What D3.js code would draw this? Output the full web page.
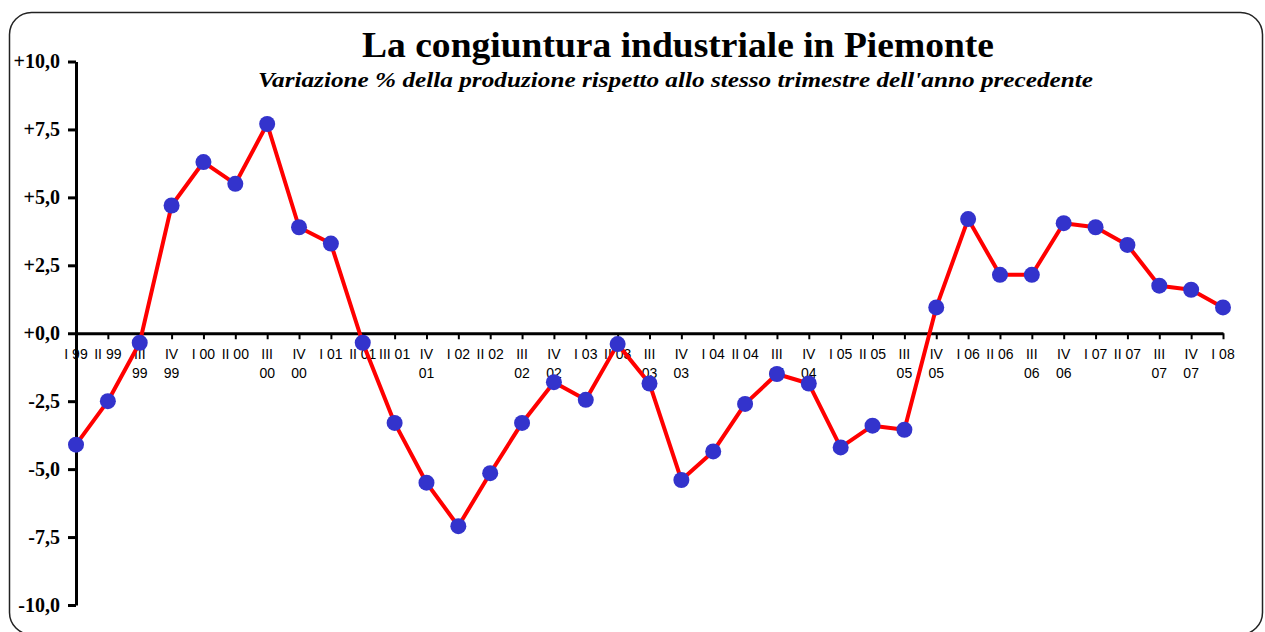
<!DOCTYPE html>
<html>
<head>
<meta charset="utf-8">
<script src="https://cdn.jsdelivr.net/npm/d3@7"></script>
<style>
  body { margin: 0; background: #fff; }
  svg { display: block; }
</style>
</head>
<body>
<svg width="1265" height="632"></svg>
<script>
// quarters I 99 .. I 08 (labels wrap like in the original sheet)
var quarters = ["I 99", "II 99", "III\n99", "IV\n99",
  "I 00", "II 00", "III\n00", "IV\n00",
  "I 01", "II 01", "III 01", "IV\n01",
  "I 02", "II 02", "III\n02", "IV\n02",
  "I 03", "II 03", "III\n03", "IV\n03",
  "I 04", "II 04", "III\n04", "IV\n04",
  "I 05", "II 05", "III\n05", "IV\n05",
  "I 06", "II 06", "III\n06", "IV\n06",
  "I 07", "II 07", "III\n07", "IV\n07",
  "I 08"];

// % change of production vs same quarter of previous year
var production = [-4.1, -2.5, -0.35, 4.7,
  6.3, 5.5, 7.7, 3.9,
  3.3, -0.35, -3.3, -5.5,
  -7.1, -5.15, -3.3, -1.8,
  -2.45, -0.4, -1.85, -5.4,
  -4.35, -2.6, -1.5, -1.85,
  -4.2, -3.4, -3.55, 0.95,
  4.2, 2.15, 2.15, 4.05,
  3.9, 3.25, 1.75, 1.6,
  0.95];

var yTicks = [-10, -7.5, -5, -2.5, 0, 2.5, 5, 7.5, 10];

var title = "La congiuntura industriale in Piemonte";
var subtitle = "Variazione % della produzione rispetto allo stesso trimestre dell'anno precedente";

var svg = d3.select("svg");

// rounded frame
svg.append("rect")
    .attr("x", 9.5).attr("y", 12.5)
    .attr("width", 1253).attr("height", 622)
    .attr("rx", 22).attr("ry", 22)
    .style("fill", "none")
    .style("stroke", "#222")
    .style("stroke-width", 1.5);

var x = d3.scalePoint().domain(quarters).range([76, 1223]);
var y = d3.scaleLinear().domain([-10, 10]).range([605, 61.5]);

function fmt(v) {
  var s = Math.abs(v).toFixed(1).replace(".", ",");
  return (v < 0 ? "-" : "+") + s;
}

// y axis
var yAxis = svg.append("g")
    .attr("transform", "translate(76,0)")
    .call(d3.axisLeft(y).tickValues(yTicks).tickFormat(fmt).tickSize(8).tickSizeOuter(0).tickPadding(8));
yAxis.select(".domain").style("stroke", "#000").style("stroke-width", 3);
yAxis.selectAll(".tick line").style("stroke", "#000").style("stroke-width", 3);
yAxis.selectAll(".tick text")
    .style("font-family", "'Liberation Serif', 'Times New Roman', serif")
    .style("font-weight", "bold")
    .style("font-size", "20px")
    .style("fill", "#000");

// x axis on the zero line
var xAxis = svg.append("g")
    .attr("transform", "translate(0," + y(0) + ")")
    .call(d3.axisBottom(x).tickFormat("").tickSize(6).tickSizeOuter(0));
xAxis.select(".domain").style("stroke", "#000").style("stroke-width", 3);
xAxis.selectAll(".tick line").style("stroke", "#000").style("stroke-width", 2);

var labels = svg.append("g").selectAll("text").data(quarters).enter().append("text")
    .attr("x", function(d) { return x(d); })
    .attr("y", y(0) + 26)
    .style("text-anchor", "middle")
    .style("font-family", "'Liberation Sans', Arial, sans-serif")
    .style("font-size", "14px")
    .style("fill", "#000");
labels.each(function(d) {
  var parts = d.split("\n");
  var t = d3.select(this);
  parts.forEach(function(p, i) {
    t.append("tspan")
      .attr("x", x(d))
      .attr("dy", i === 0 ? 0 : 19)
      .text(p);
  });
});

// series line
var pts = quarters.map(function(q, i) { return [q, production[i]]; });
svg.append("path")
    .datum(pts)
    .attr("d", d3.line()
        .x(function(d) { return x(d[0]); })
        .y(function(d) { return y(d[1]); }))
    .style("fill", "none")
    .style("stroke", "#ff0000")
    .style("stroke-width", 4)
    .style("stroke-linejoin", "round");

svg.append("g").selectAll("circle").data(pts).enter().append("circle")
    .attr("cx", function(d) { return x(d[0]); })
    .attr("cy", function(d) { return y(d[1]); })
    .attr("r", 8)
    .style("fill", "#3333cc");

// titles (stretched a little, as in the original)
svg.append("text")
    .attr("x", 678).attr("y", 57)
    .style("text-anchor", "middle")
    .attr("textLength", 632)
    .attr("lengthAdjust", "spacingAndGlyphs")
    .style("font-family", "'Liberation Serif', 'Times New Roman', serif")
    .style("font-weight", "bold")
    .style("font-size", "35px")
    .text(title);

svg.append("text")
    .attr("x", 675.5).attr("y", 87)
    .style("text-anchor", "middle")
    .attr("textLength", 835)
    .attr("lengthAdjust", "spacingAndGlyphs")
    .style("font-family", "'Liberation Serif', 'Times New Roman', serif")
    .style("font-weight", "bold")
    .style("font-style", "italic")
    .style("font-size", "21px")
    .text(subtitle);
</script>
</body>
</html>
